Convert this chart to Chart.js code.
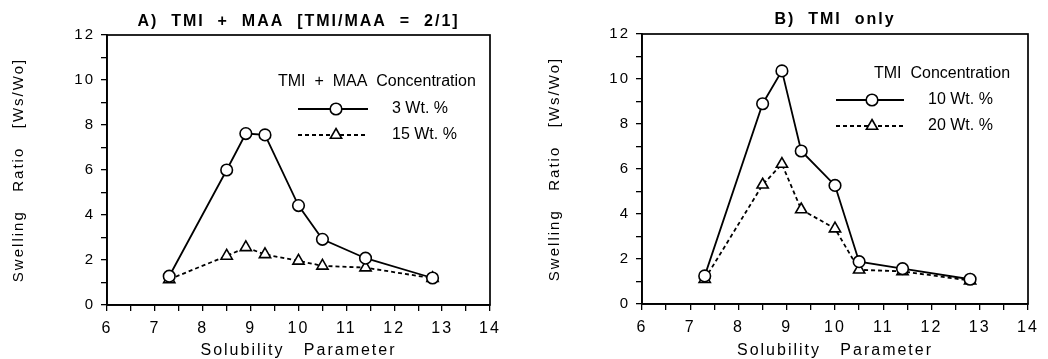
<!DOCTYPE html>
<html>
<head>
<meta charset="utf-8">
<script src="https://cdn.jsdelivr.net/npm/chart.js@4"></script>
<style>
    html, body { margin: 0; padding: 0; background: #fff; }
    .panel { position: absolute; top: 0; width: 524px; height: 359px; }
    #panelA { left: 0; }
    #panelB { left: 524px; }
</style>
</head>
<body>
<div class="panel" id="panelA"><canvas id="chartA"></canvas></div>
<div class="panel" id="panelB"><canvas id="chartB"></canvas></div>
<script>
/* Swelling ratio vs solubility parameter — two panels */

const solubility = [7.3, 8.5, 8.9, 9.3, 10.0, 10.5, 11.4, 12.8];

// A) TMI + MAA
const tmiMaa3 = [1.28, 6.0, 7.62, 7.56, 4.42, 2.92, 2.08, 1.2];
const tmiMaa15 = [1.14, 2.18, 2.56, 2.25, 1.96, 1.74, 1.66, 1.19];

// B) TMI only
const tmi10 = [1.25, 8.9, 10.36, 6.8, 5.27, 1.88, 1.57, 1.1];
const tmi20 = [1.1, 5.3, 6.22, 4.2, 3.35, 1.52, 1.45, 1.04];

const xRange = [6, 14];
const yRange = [0, 12];

const FONT = "'Liberation Sans', Arial, Helvetica, sans-serif";

function pts(ys) {
    return solubility.map((x, i) => ({ x: x, y: ys[i] }));
}

function drawMarker(ctx, style, x, y, r) {
    ctx.beginPath();
    if (style === 'circle') {
        ctx.arc(x, y, r, 0, Math.PI * 2);
    } else {
        for (let k = 0; k < 3; k++) {
            const a = k * Math.PI * 2 / 3;
            const px = x + Math.sin(a) * r, py = y - Math.cos(a) * r;
            if (k === 0) ctx.moveTo(px, py); else ctx.lineTo(px, py);
        }
        ctx.closePath();
    }
    ctx.fillStyle = '#fff';
    ctx.fill();
    ctx.lineWidth = 1.6;
    ctx.strokeStyle = '#000';
    ctx.stroke();
}

// frame, letter spacing and in-plot legend
function panelPlugin(legend) {
    return {
        id: 'panelExtras',
        beforeDraw(chart) {
            chart.ctx.letterSpacing = '2px';
        },
        beforeDatasetsDraw(chart) {
            const ctx = chart.ctx, a = chart.chartArea;
            ctx.letterSpacing = '0px';
            ctx.save();
            ctx.strokeStyle = '#000';
            ctx.lineWidth = 1.7;
            ctx.strokeRect(a.left, a.top, a.right - a.left, a.bottom - a.top);
            ctx.restore();
        },
        afterDraw(chart) {
            const ctx = chart.ctx, a = chart.chartArea;
            ctx.save();
            ctx.letterSpacing = '0px';
            ctx.fillStyle = '#000';
            ctx.font = '16px ' + FONT;
            ctx.textBaseline = 'middle';
            ctx.textAlign = 'left';
            ctx.fillText(legend.heading, a.left + legend.headX, a.top + legend.headY);
            legend.rows.forEach(row => {
                const y = a.top + row.y;
                ctx.beginPath();
                ctx.setLineDash(row.dash);
                ctx.lineWidth = 1.8;
                ctx.strokeStyle = '#000';
                ctx.moveTo(a.left + legend.lineX0, y);
                ctx.lineTo(a.left + legend.lineX1, y);
                ctx.stroke();
                ctx.setLineDash([]);
                drawMarker(ctx, row.style, a.left + legend.markX, y, row.style === 'circle' ? 5.8 : 6.5);
                ctx.fillStyle = '#000';
                ctx.fillText(row.label, a.left + legend.textX, y);
            });
            ctx.restore();
        }
    };
}

function makePanel(id, cfg) {
    const ctx = document.getElementById(id);
    return new Chart(ctx, {
        type: 'line',
        data: {
            datasets: [
                {
                    label: cfg.labels[0],
                    data: pts(cfg.series[0]),
                    borderColor: '#000',
                    borderWidth: 1.8,
                    pointStyle: 'circle',
                    pointRadius: 5.8,
                    pointBorderWidth: 1.6,
                    pointBackgroundColor: '#fff',
                    pointBorderColor: '#000',
                    tension: 0,
                    order: 1,
                },
                {
                    label: cfg.labels[1],
                    data: pts(cfg.series[1]),
                    borderColor: '#000',
                    borderWidth: 1.8,
                    borderDash: [4, 3],
                    pointStyle: 'triangle',
                    pointRadius: 6.5,
                    pointBorderWidth: 1.6,
                    pointBackgroundColor: '#fff',
                    pointBorderColor: '#000',
                    tension: 0,
                    order: 2,
                },
            ],
        },
        options: {
            responsive: true,
            maintainAspectRatio: false,
            animation: false,
            events: [],
            layout: { padding: { left: 0, right: cfg.padRight, top: 0, bottom: 0 } },
            plugins: {
                legend: { display: false },
                tooltip: { enabled: false },
                title: {
                    display: true,
                    text: cfg.title,
                    fullSize: false,
                    color: '#000',
                    font: { family: FONT, size: 16, weight: 'bold', lineHeight: 1.125 },
                    padding: { top: cfg.titleTop, bottom: cfg.titleBottom },
                },
            },
            scales: {
                x: {
                    type: 'linear',
                    min: xRange[0],
                    max: xRange[1],
                    afterFit: s => { s.height = cfg.xHeight; },
                    ticks: {
                        stepSize: 0.5,
                        autoSkip: false,
                        maxRotation: 0,
                        color: '#000',
                        padding: 8,
                        font: { family: FONT, size: 16 },
                        callback: v => Number.isInteger(v) ? v : '',
                    },
                    grid: { drawOnChartArea: false, drawTicks: true, tickLength: 6, color: '#000', lineWidth: 1.3 },
                    border: { color: '#000', width: 1.7 },
                    title: {
                        display: true,
                        text: 'Solubility   Parameter',
                        color: '#000',
                        font: { family: FONT, size: 16, lineHeight: 1 },
                        padding: { top: 0, bottom: 0 },
                    },
                },
                y: {
                    min: yRange[0],
                    max: yRange[1],
                    afterFit: s => { s.width = cfg.yWidth; },
                    ticks: {
                        stepSize: 1,
                        color: '#000',
                        padding: 6,
                        font: { family: FONT, size: 15 },
                        callback: v => v % 2 === 0 ? v : '',
                    },
                    grid: { drawOnChartArea: false, drawTicks: true, tickLength: 6, color: '#000', lineWidth: 1.3 },
                    border: { color: '#000', width: 1.7 },
                    title: {
                        display: true,
                        text: 'Swelling   Ratio   [Ws/Wo]',
                        color: '#000',
                        font: { family: FONT, size: 15, lineHeight: 1 },
                        padding: { top: cfg.yTitlePad, bottom: 0 },
                    },
                },
            },
        },
        plugins: [panelPlugin(cfg.legend)],
    });
}

makePanel('chartA', {
    title: 'A)  TMI  +  MAA  [TMI/MAA  =  2/1]',
    labels: ['3 Wt. %', '15 Wt. %'],
    series: [tmiMaa3, tmiMaa15],
    padRight: 34,
    titleTop: 13,
    titleBottom: 4,
    xHeight: 54,
    yWidth: 107,
    yTitlePad: 11,
    legend: {
        heading: 'TMI  +  MAA  Concentration',
        headX: 171, headY: 47,
        lineX0: 191, lineX1: 261, markX: 229, textX: 285,
        rows: [
            { label: '3 Wt. %', style: 'circle', dash: [], y: 74 },
            { label: '15 Wt. %', style: 'triangle', dash: [4, 3], y: 100 },
        ],
    },
});

makePanel('chartB', {
    title: 'B)  TMI  only',
    labels: ['10 Wt. %', '20 Wt. %'],
    series: [tmi10, tmi20],
    padRight: 20,
    titleTop: 11,
    titleBottom: 5,
    xHeight: 55,
    yWidth: 118,
    yTitlePad: 23,
    legend: {
        heading: 'TMI  Concentration',
        headX: 232, headY: 40,
        lineX0: 194, lineX1: 262, markX: 230, textX: 286,
        rows: [
            { label: '10 Wt. %', style: 'circle', dash: [], y: 66 },
            { label: '20 Wt. %', style: 'triangle', dash: [4, 3], y: 92 },
        ],
    },
});
</script>
</body>
</html>
